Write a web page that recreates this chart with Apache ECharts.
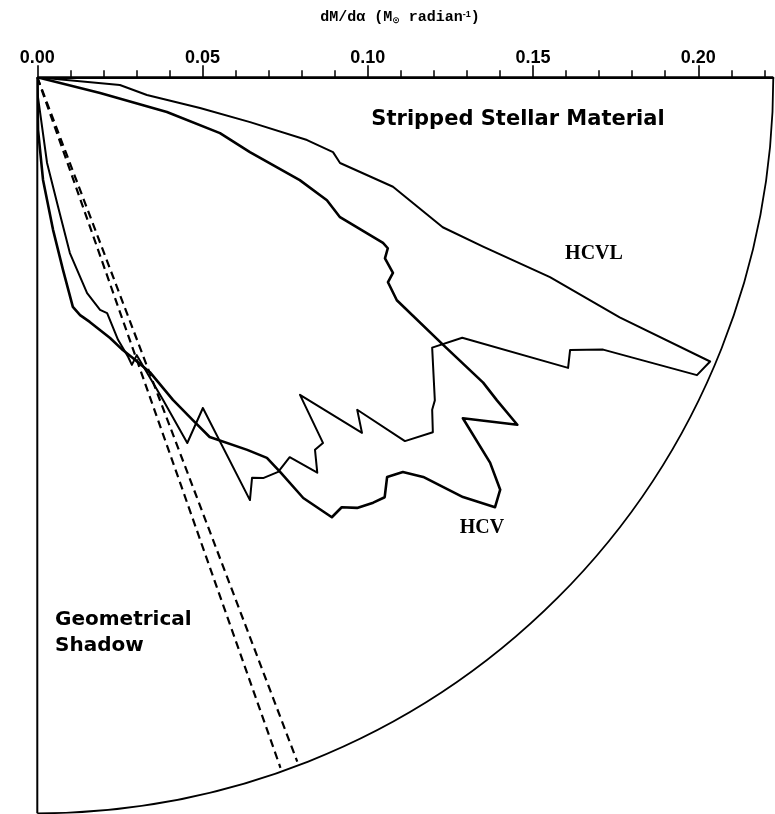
<!DOCTYPE html>
<html><head><meta charset="utf-8">
<script src="https://cdn.jsdelivr.net/npm/echarts@6/dist/echarts.min.js"></script>
<style>html,body{margin:0;padding:0;background:#fff}#c{width:775px;height:814px}</style>
</head><body><div id="c"></div>
<script>
// radial axis: dM/dalpha (Msun / radian); angular axis: degrees from the top axis, clockwise
const majorTicks = [0, 0.05, 0.10, 0.15, 0.20];
const minorTicks = [0.01, 0.02, 0.03, 0.04, 0.06, 0.07, 0.08, 0.09, 0.11, 0.12, 0.13, 0.14, 0.16, 0.17, 0.18, 0.19, 0.21, 0.22];
const radiusMax = 0.2227;
const angleMax = 90;

const hcvRadius = [0, 0.0196, 0.0406, 0.0578, 0.0682, 0.0853, 0.0952, 0.1009, 0.1160, 0.1180, 0.1186, 0.1228, 0.1229, 0.1280, 0.1471, 0.1635, 0.1700, 0.1793, 0.1650, 0.1799, 0.1876, 0.1900, 0.1809, 0.1681, 0.1628, 0.1607, 0.1649, 0.1640, 0.1623, 0.1594, 0.1602, 0.1506, 0.1402, 0.1345, 0.1294, 0.1207, 0.1139, 0.1059, 0.0955, 0.0897, 0.0865, 0.0819, 0.0757, 0.0731, 0.0703, 0.0588, 0.0464, 0.0311, 0.0159, 0];
const hcvAngle  = [14, 14.1, 15.0, 17.0, 19.4, 21.4, 23.0, 24.8, 25.6, 26.0, 27.5, 28.8, 30.3, 31.8, 33.4, 34.4, 35.1, 35.9, 38.7, 40.4, 41.7, 43.2, 44.6, 46.0, 47.2, 48.8, 50.4, 51.7, 53.4, 54.7, 56.2, 57.7, 58.4, 58.9, 60.6, 64.4, 65.6, 67.2, 69.1, 71.2, 72.6, 74.4, 77.9, 79.8, 81.2, 82.4, 84.1, 86.8, 89.2, 90];

const hcvlRadius = [0, 0.0251, 0.0336, 0.0501, 0.0658, 0.0838, 0.0923, 0.0952, 0.1126, 0.1308, 0.1443, 0.1665, 0.1906, 0.2210, 0.2190, 0.1900, 0.1811, 0.1831, 0.1508, 0.1448, 0.1550, 0.1562, 0.1608, 0.1565, 0.1396, 0.1457, 0.1247, 0.1404, 0.1406, 0.1466, 0.1380, 0.1399, 0.1392, 0.1375, 0.1432, 0.1119, 0.1196, 0.1048, 0.0893, 0.0916, 0.0890, 0.0831, 0.0744, 0.0729, 0.0670, 0.0541, 0.0397, 0.0261, 0.0060, 0];
const hcvlAngle  = [5, 5.3, 9.2, 10.7, 11.9, 13.1, 14.2, 15.8, 17.1, 20.3, 20.8, 21.3, 22.4, 22.9, 24.3, 25.7, 27.1, 28.7, 31.5, 34.4, 39.1, 40.1, 41.9, 44.7, 46.1, 47.6, 50.4, 52.0, 53.3, 54.7, 56.4, 58.6, 60.6, 61.8, 63.3, 63.4, 67.7, 68.7, 70.3, 71.8, 72.0, 72.9, 73.5, 74.9, 77.0, 79.5, 80.9, 83.5, 88.0, 90];

const shadowAngles = [70.6, 69.2];
const shadowRadius = [0, 0.2215];

const CENTER = [37.3, 77.3];
const RADIUS_PX = 736;

const chart = echarts.init(document.getElementById('c'), null, {renderer: 'canvas'});

const hiddenAngle = {type: 'value', min: 0, max: angleMax, interval: angleMax, startAngle: 0, endAngle: -90, clockwise: true,
  axisLine: {show: false}, axisTick: {show: false}, axisLabel: {show: false}, splitLine: {show: false}};

const series = [
  {type: 'line', coordinateSystem: 'polar', polarIndex: 0, showSymbol: false, symbol: 'none', z: 4,
   data: hcvRadius.map((r, i) => [r, hcvAngle[i]]),
   lineStyle: {color: '#000', width: 2.6, join: 'round'}},
  {type: 'line', coordinateSystem: 'polar', polarIndex: 0, showSymbol: false, symbol: 'none', z: 4,
   data: hcvlRadius.map((r, i) => [r, hcvlAngle[i]]),
   lineStyle: {color: '#000', width: 2.0, join: 'round'}}
];
shadowAngles.forEach(a => {
  series.push({type: 'line', coordinateSystem: 'polar', polarIndex: 0, showSymbol: false, symbol: 'none', z: 3,
    data: shadowRadius.map(r => [r, a]),
    lineStyle: {color: '#000', width: 2.2, type: [8, 5]}});
});

chart.setOption({
  animation: false,
  backgroundColor: '#fff',
  title: {
    text: '{a|dM/dα (M}{s|⊙}{a| radian}{p|-1}{a|)}',
    left: 395, top: 5, textAlign: 'center',
    textStyle: {rich: {
      a: {fontFamily: 'Liberation Mono', fontWeight: 'bold', fontSize: 15, color: '#000'},
      s: {fontFamily: 'DejaVu Sans', fontWeight: 'bold', fontSize: 9, color: '#000', verticalAlign: 'bottom', padding: [6, 0, 0, 0]},
      p: {fontFamily: 'Liberation Sans', fontWeight: 'bold', fontSize: 9, color: '#000', verticalAlign: 'top'}
    }}
  },
  polar: [{center: CENTER, radius: RADIUS_PX}, {center: CENTER, radius: RADIUS_PX}],
  angleAxis: [
    {polarIndex: 0, type: 'value', min: 0, max: angleMax, interval: angleMax, startAngle: 0, endAngle: -90, clockwise: true,
     axisLine: {show: true, lineStyle: {color: '#000', width: 1.8}},
     axisTick: {show: false}, axisLabel: {show: false},
     splitLine: {show: true, lineStyle: {color: '#000', width: 2}}},
    Object.assign({polarIndex: 1}, hiddenAngle)
  ],
  radiusAxis: [
    {polarIndex: 0, type: 'value', min: 0, max: radiusMax,
     axisLine: {show: true, lineStyle: {color: '#000', width: 2}},
     axisTick: {show: true, inside: true, length: 7, customValues: minorTicks, lineStyle: {color: '#000', width: 1.5}},
     axisLabel: {show: false}, splitLine: {show: false}},
    {polarIndex: 1, type: 'value', min: 0, max: radiusMax,
     axisLine: {show: false},
     axisTick: {show: true, inside: true, length: 12, customValues: majorTicks, lineStyle: {color: '#000', width: 1.6}},
     axisLabel: {show: true, customValues: majorTicks, formatter: v => v.toFixed(2), margin: 10,
       fontFamily: 'Liberation Sans', fontWeight: 'bold', fontSize: 18, color: '#000'},
     splitLine: {show: false}}
  ],
  graphic: [
    {type: 'text', x: 518, y: 120, z: 10, style: {text: 'Stripped Stellar Material', fill: '#000',
      font: 'bold 21px "DejaVu Sans"', textAlign: 'center', textVerticalAlign: 'middle'}},
    {type: 'text', x: 594, y: 254, z: 10, style: {text: 'HCVL', fill: '#000',
      font: 'bold 20px "Liberation Serif"', textAlign: 'center', textVerticalAlign: 'middle'}},
    {type: 'text', x: 482, y: 528, z: 10, style: {text: 'HCV', fill: '#000',
      font: 'bold 20px "Liberation Serif"', textAlign: 'center', textVerticalAlign: 'middle'}},
    {type: 'text', x: 55, y: 620, z: 10, style: {text: 'Geometrical', fill: '#000',
      font: 'bold 20px "DejaVu Sans"', textAlign: 'left', textVerticalAlign: 'middle'}},
    {type: 'text', x: 55, y: 646, z: 10, style: {text: 'Shadow', fill: '#000',
      font: 'bold 20px "DejaVu Sans"', textAlign: 'left', textVerticalAlign: 'middle'}}
  ],
  series: series
});
</script>
</body></html>
